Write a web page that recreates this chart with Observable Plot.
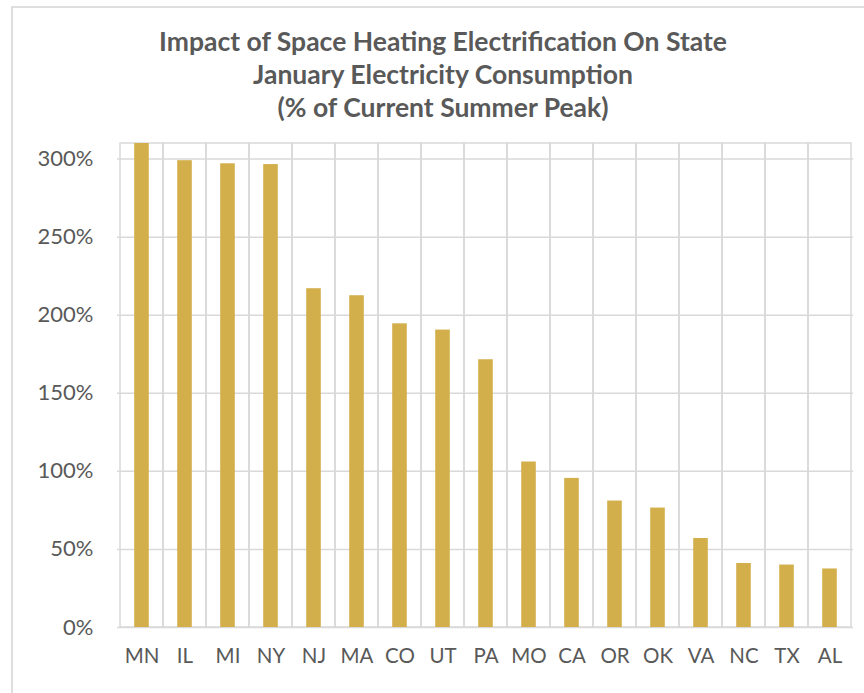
<!DOCTYPE html>
<html>
<head>
<meta charset="utf-8">
<script src="https://cdn.jsdelivr.net/npm/d3@7"></script>
<script src="https://cdn.jsdelivr.net/npm/@observablehq/plot@0.6"></script>
<style>
  html, body { margin: 0; padding: 0; background: #fff; }
  #page { position: relative; width: 864px; height: 693px; overflow: hidden; background: #fff; }
  #frame { position: absolute; left: 11px; top: 6px; width: 900px; height: 720px;
           border-left: 2px solid #dedede; border-top: 2px solid #dedede; }
  #title { position: absolute; left: 12px; width: 862px; top: 25px; text-align: center;
           font-family: Lato, "Open Sans", sans-serif; font-weight: bold; font-size: 26.5px;
           line-height: 33px; color: #595959; }
  #chart { position: absolute; left: 0; top: 130px; }
</style>
</head>
<body>
<div id="page">
  <div id="frame"></div>
  <div id="title">Impact of Space Heating Electrification On State<br>January Electricity Consumption<br>(% of Current Summer Peak)</div>
  <div id="chart"></div>
</div>
<script>
const states = ["MN","IL","MI","NY","NJ","MA","CO","UT","PA","MO","CA","OR","OK","VA","NC","TX","AL"];
const pctOfSummerPeak = [311, 299, 297, 296.5, 217, 212.5, 194.5, 190.5, 171.5, 106, 95.5, 81, 76.5, 57, 41, 40, 37.5];
const yTicks = [0, 50, 100, 150, 200, 250, 300];
const yMax = 310;

const data = states.map((s, i) => ({state: s, value: pctOfSummerPeak[i]}));

const chart = Plot.plot({
  width: 864,
  height: 563,
  marginLeft: 117,
  marginRight: 11,
  marginTop: 13,
  marginBottom: 66,
  style: {fontFamily: "Lato, 'Open Sans', sans-serif", fontSize: "20px", color: "#595959", background: "transparent"},
  x: {domain: states, padding: 0, label: null},
  y: {domain: [0, yMax], label: null},
  marks: [
    Plot.ruleY(yTicks, {stroke: "#d9d9d9", strokeWidth: 1.5}),
    Plot.barY(states, {x: d => d, y1: 0, y2: yMax, fill: "none", stroke: "#d9d9d9", strokeWidth: 1.5}),
    Plot.barY(data, {x: "state", y: "value", fill: "#D3AF4B", insetLeft: 14.2, insetRight: 14.2, clip: true}),
    Plot.axisY({ticks: yTicks, tickFormat: d => d + "%", tickSize: 0, tickPadding: 24, fill: "#595959", fontSize: 22}),
    Plot.axisX({tickSize: 0, tickPadding: 21, fill: "#595959", fontSize: 20.5})
  ]
});
document.getElementById("chart").appendChild(chart);
</script>
</body>
</html>
